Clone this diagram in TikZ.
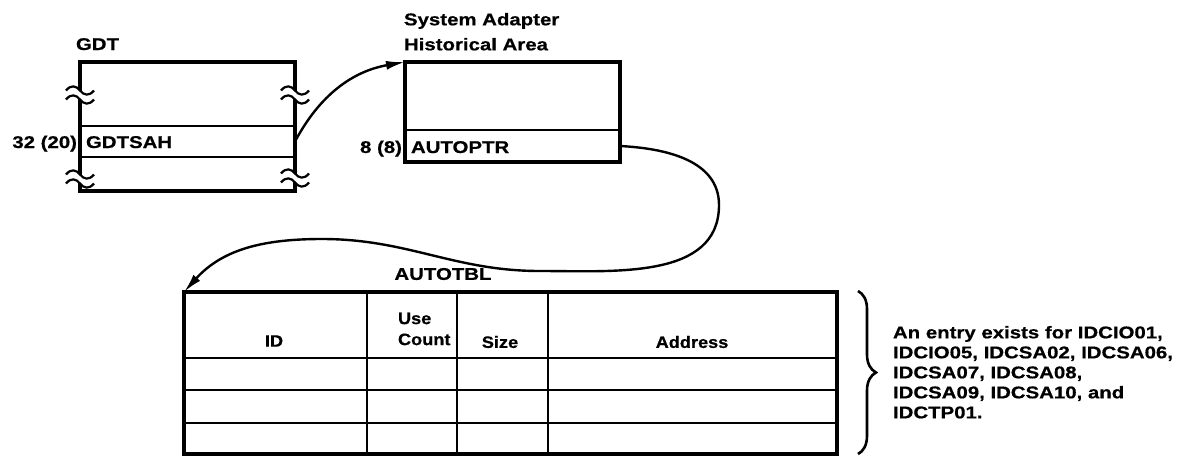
\documentclass[tikz,border=0pt]{standalone}
\usepackage{fontspec}
\setmainfont{Liberation Sans}[FakeStretch=1.2, BoldFeatures={FakeBold=0.6}]
\newfontfamily\hdrfont{Liberation Sans}[FakeStretch=1.1, BoldFeatures={FakeBold=0.6}]
\usetikzlibrary{arrows.meta,decorations.pathreplacing}
\begin{document}
\begin{tikzpicture}[x=1pt,y=-1pt,
  font=\bfseries\fontsize{17}{20}\selectfont,
  frame/.style={draw, line width=3.4pt, inner sep=0pt, outer sep=0pt, anchor=north west},
  slot/.style={inner sep=0pt, outer sep=0pt, anchor=north west},
  rule/.style={line width=2.6pt},
  lbl/.style={inner sep=0pt, outer sep=0pt},
  hdr/.style={lbl, font=\hdrfont\bfseries\fontsize{16.5}{21}\selectfont},
  ptr/.style={line width=2.4pt, -{Latex[length=19pt,width=9pt]}},
  brk/.pic={
    \fill[white] (-14,-4) .. controls (-9,-10) and (-4,-9) .. (0,-4)
                 .. controls (4,1) and (9,2) .. (14,-4) -- (14,5)
                 .. controls (9,11) and (4,10) .. (0,5)
                 .. controls (-4,0) and (-9,-1) .. (-14,5) -- cycle;
    \draw[line width=2.2pt] (-14,-4) .. controls (-9,-10) and (-4,-9) .. (0,-4)
                 .. controls (4,1) and (9,2) .. (14,-4);
    \draw[line width=2.2pt] (-14,5) .. controls (-9,-1) and (-4,0) .. (0,5)
                 .. controls (4,10) and (9,11) .. (14,5);
  }]
\useasboundingbox (0,0) rectangle (1191,458);

% ---------- GDT ----------
\node[frame, minimum width=215pt, minimum height=129pt] (gdt) at (80,62) {};
\node[slot, minimum width=215pt, minimum height=31pt] (gdtsah) at (80,126) {};
\draw[rule] (gdtsah.north west) -- (gdtsah.north east);
\draw[rule] (gdtsah.south west) -- (gdtsah.south east);
\pic at (80,94.5) {brk};
\pic at (80,178.5) {brk};
\pic at (295,94.5) {brk};
\pic at (295,177.5) {brk};
\node[lbl, anchor=base west] (gdtlbl) at (76,50) {GDT};
\node[lbl, anchor=base east] (gdtoff) at (77,148) {32 (20)};
\node[lbl, anchor=base west] (gdttxt) at (86,148) {GDTSAH};

% ---------- System Adapter Historical Area ----------
\node[frame, minimum width=215pt, minimum height=100pt] (saha) at (405,62) {};
\node[slot, minimum width=215pt, minimum height=32pt] (autoptr) at (405,130) {};
\draw[rule] (autoptr.north west) -- (autoptr.north east);
\node[lbl, anchor=north west, align=left, font=\bfseries\fontsize{17}{25}\selectfont]
  (sahalbl) at (404,13) {System Adapter\\Historical Area};
\node[lbl, anchor=base east] (sahaoff) at (402,153) {8 (8)};
\node[lbl, anchor=base west] (sahatxt) at (411,153) {AUTOPTR};

% ---------- AUTOTBL ----------
\node[frame, minimum width=653pt, minimum height=162pt] (tbl) at (184,292) {};
\coordinate (c1) at (367,292);
\coordinate (c2) at (457,292);
\coordinate (c3) at (548,292);
\foreach \c in {c1,c2,c3}
  \draw[rule] (\c) -- (\c |- tbl.south);
\foreach \y in {358,390,423}
  \draw[rule] (tbl.west |- 0,\y) -- (tbl.east |- 0,\y);
\node[lbl] (tbllbl) at (443,274) {AUTOTBL};
\node[hdr] (hid) at (274,341) {ID};
\node[hdr, anchor=west, align=left, font=\hdrfont\bfseries\fontsize{16.5}{21}\selectfont]
  (huse) at (398,329) {Use\\Count};
\node[hdr] (hsize) at (500,342) {Size};
\node[hdr] (haddr) at (692,342) {Address};

% ---------- brace and note ----------
\coordinate (brtop) at (858,291);
\coordinate (brbot) at (858,454);
\draw[decorate, decoration={brace, amplitude=18pt}, line width=2.6pt] (brtop) -- (brbot);
\node[lbl, anchor=north west, align=left, font=\bfseries\fontsize{17}{20}\selectfont]
  (note) at (893,326)
  {An entry exists for IDCIO01,\\IDCIO05, IDCSA02, IDCSA06,\\IDCSA07, IDCSA08,\\IDCSA09, IDCSA10, and\\IDCTP01.};

% ---------- pointers ----------
\draw[ptr] (gdtsah.east) to[out=62,in=190] (saha.north west);
\coordinate (w1) at (719,205);
\coordinate (w2) at (540,271);
\coordinate (w3) at (322,239);
\draw[ptr] (autoptr.east) to[out=-3,in=90] (w1) to[out=-90,in=0] (w2)
  to[out=180,in=0] (w3) to[out=180,in=48] (tbl.north west);
\end{tikzpicture}
\end{document}
